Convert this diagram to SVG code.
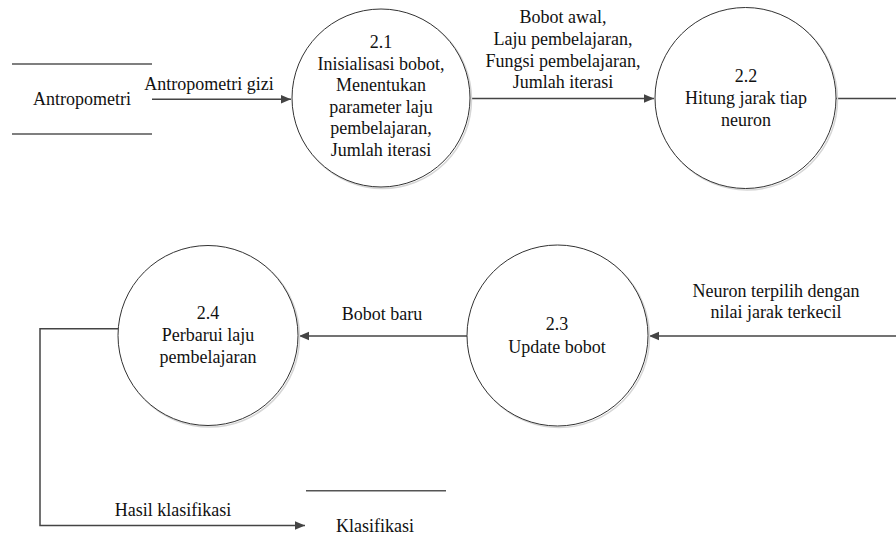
<svg xmlns="http://www.w3.org/2000/svg" width="896" height="558" viewBox="0 0 896 558">
<defs>
<style>
.bg{fill:#ffffff}
.proc{fill:#ffffff;stroke:#333333;stroke-width:1}
.shadow{fill:none;stroke:#d6d6d6;stroke-width:1.5}
.store{stroke:#555555;stroke-width:1.5;fill:none}
.conn{stroke:#444444;stroke-width:1.5;fill:none}
.t{font-family:'Liberation Serif','Times New Roman',serif;font-size:18px;fill:#111111;text-anchor:middle}
</style>
<marker id="arr" viewBox="0 0 10 10" refX="10" refY="5" markerWidth="10" markerHeight="10" markerUnits="userSpaceOnUse" orient="auto">
<path d="M0,0.8 L10,5 L0,9.2 Z" fill="#444444"/>
</marker>
</defs>
<rect class="bg" x="0" y="0" width="896" height="558"/>

<g id="connectors">
<path class="conn" d="M152,99.3 L291,99.3" marker-end="url(#arr)"/>
<path class="conn" d="M471,98.5 L654,98.5" marker-end="url(#arr)"/>
<path class="conn" d="M836,98.5 L900,98.5"/>
<path class="conn" d="M900,336 L649,336" marker-end="url(#arr)"/>
<path class="conn" d="M467,336 L299,336" marker-end="url(#arr)"/>
<path class="conn" d="M118,328.7 L40,328.7 L40,525.5 L305,525.5" marker-end="url(#arr)"/>
<text class="t" x="209" y="90">Antropometri gizi</text>
<text class="t" x="563" y="23">Bobot awal,</text>
<text class="t" x="563" y="45">Laju pembelajaran,</text>
<text class="t" x="563" y="67">Fungsi pembelajaran,</text>
<text class="t" x="563" y="88">Jumlah iterasi</text>
<text class="t" x="776" y="297">Neuron terpilih dengan</text>
<text class="t" x="776" y="318">nilai jarak terkecil</text>
<text class="t" x="382" y="320">Bobot baru</text>
<text class="t" x="173" y="516">Hasil klasifikasi</text>
</g>

<g id="store-antropometri">
<line class="store" x1="12" y1="64" x2="152" y2="64"/>
<line class="store" x1="12" y1="134" x2="152" y2="134"/>
<text class="t" x="82" y="105">Antropometri</text>
</g>

<g id="p2-1">
<circle class="shadow" cx="382.5" cy="99.5" r="89"/>
<circle class="proc" cx="381" cy="98" r="89"/>
<text class="t" x="381" y="48">2.1</text>
<text class="t" x="381" y="69.5">Inisialisasi bobot,</text>
<text class="t" x="381" y="91">Menentukan</text>
<text class="t" x="381" y="112.5">parameter laju</text>
<text class="t" x="381" y="134">pembelajaran,</text>
<text class="t" x="381" y="155.5">Jumlah iterasi</text>
</g>

<g id="p2-2">
<circle class="shadow" cx="747" cy="99.5" r="90.5"/>
<circle class="proc" cx="745.5" cy="98" r="90.5"/>
<text class="t" x="746" y="81.5">2.2</text>
<text class="t" x="746" y="103.5">Hitung jarak tiap</text>
<text class="t" x="746" y="125.5">neuron</text>
</g>

<g id="p2-3">
<circle class="shadow" cx="559" cy="337" r="90.5"/>
<circle class="proc" cx="557.5" cy="335.5" r="90.5"/>
<text class="t" x="557" y="330">2.3</text>
<text class="t" x="557" y="353">Update bobot</text>
</g>

<g id="p2-4">
<circle class="shadow" cx="209.5" cy="337" r="90"/>
<circle class="proc" cx="208" cy="335.5" r="90"/>
<text class="t" x="208" y="319">2.4</text>
<text class="t" x="208" y="341">Perbarui laju</text>
<text class="t" x="208" y="363">pembelajaran</text>
</g>

<g id="store-klasifikasi">
<line class="store" x1="306" y1="490.7" x2="446" y2="490.7"/>
<text class="t" x="375" y="531.5">Klasifikasi</text>
</g>
</svg>
